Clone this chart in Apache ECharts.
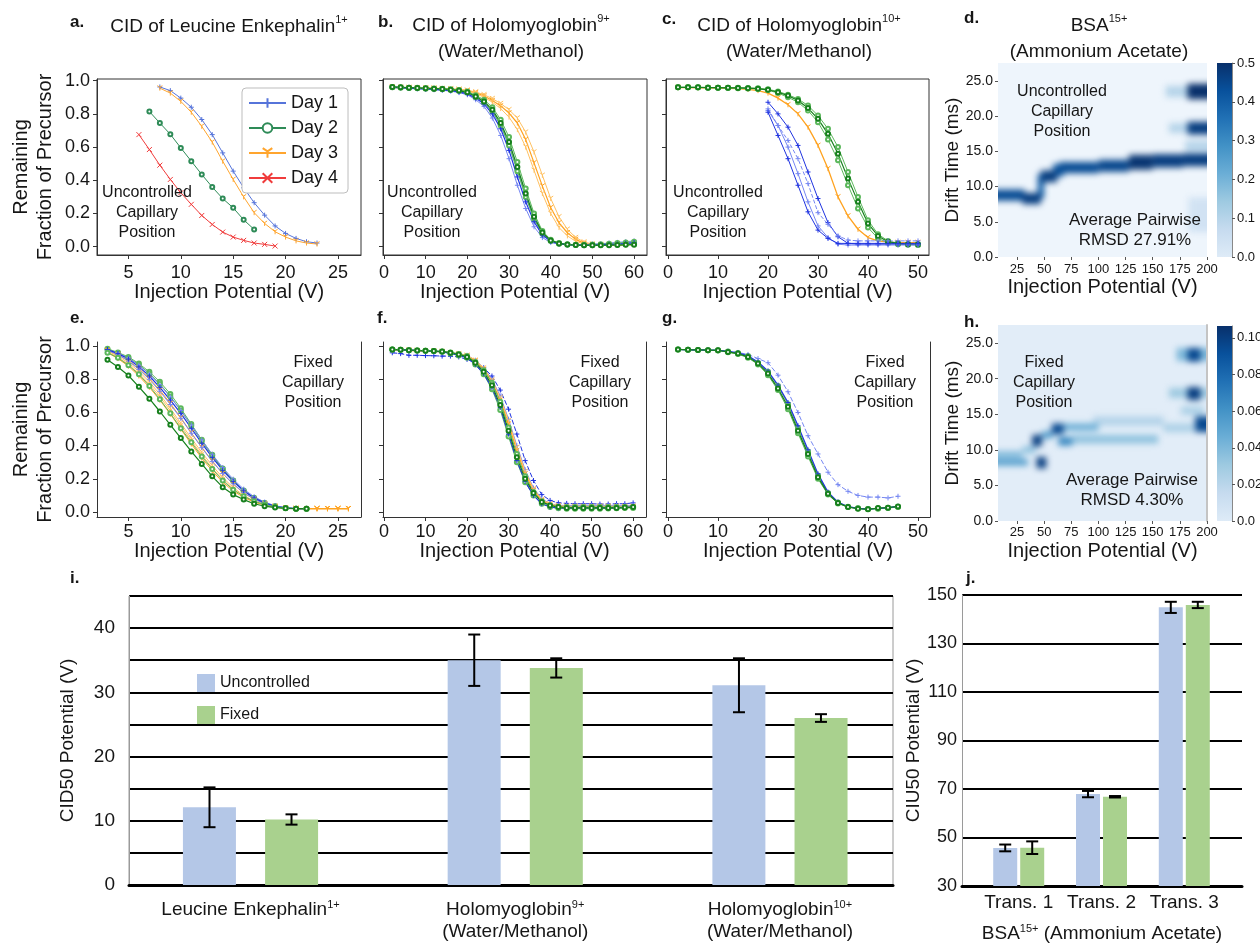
<!DOCTYPE html>
<html>
<head>
<meta charset="utf-8">
<title>CID / CIU reproducibility</title>
<script src="https://cdn.jsdelivr.net/npm/echarts@6/dist/echarts.min.js"></script>
<style>
  html, body { margin: 0; padding: 0; background: #ffffff; }
  #fig { position: absolute; left: 0; top: 0; width: 1260px; height: 944px; z-index: 2; }
  .ciu { position: absolute; overflow: hidden; z-index: 1; }
  .ciu > div { position: absolute; filter: blur(3px); }
</style>
</head>
<body>
<div id="fig"></div>
<script>
// ---------------- data ----------------
// a. CID of Leucine Enkephalin 1+, uncontrolled capillary position (four days)
const aDay1X = [8, 9, 10, 11, 12, 13, 14, 15, 16, 17, 18, 19, 20, 21, 22, 23];
const aDay1Y = [0.962, 0.94, 0.895, 0.84, 0.766, 0.675, 0.565, 0.455, 0.355, 0.265, 0.19, 0.125, 0.08, 0.05, 0.03, 0.022];
const aDay2X = [7, 8, 9, 10, 11, 12, 13, 14, 15, 16, 17];
const aDay2Y = [0.814, 0.745, 0.677, 0.595, 0.515, 0.435, 0.359, 0.29, 0.234, 0.162, 0.104];
const aDay3X = [8, 9, 10, 11, 12, 13, 14, 15, 16, 17, 18, 19, 20, 21, 22, 23];
const aDay3Y = [0.955, 0.925, 0.875, 0.81, 0.725, 0.63, 0.515, 0.405, 0.3, 0.205, 0.14, 0.09, 0.058, 0.035, 0.022, 0.016];
const aDay4X = [6, 7, 8, 9, 10, 11, 12, 13, 14, 15, 16, 17, 18, 19];
const aDay4Y = [0.675, 0.585, 0.491, 0.405, 0.325, 0.255, 0.188, 0.134, 0.088, 0.058, 0.038, 0.022, 0.014, 0.004];

// b. Holomyoglobin 9+, uncontrolled
const bX = [2, 4, 6, 8, 10, 12, 14, 16, 18, 20, 22, 24, 26, 28, 30, 32, 34, 36, 38, 40, 42, 44, 46, 48, 50, 52, 54, 56, 58, 60];
const bBlue1 = [0.96, 0.958, 0.955, 0.953, 0.95, 0.948, 0.945, 0.94, 0.932, 0.92, 0.895, 0.86, 0.8, 0.71, 0.58, 0.42, 0.27, 0.15, 0.07, 0.032, 0.018, 0.012, 0.01, 0.01, 0.01, 0.012, 0.014, 0.016, 0.02, 0.025];
const bBlue2 = [0.958, 0.956, 0.953, 0.95, 0.948, 0.945, 0.942, 0.937, 0.928, 0.915, 0.885, 0.845, 0.775, 0.67, 0.53, 0.37, 0.23, 0.12, 0.055, 0.025, 0.015, 0.012, 0.012, 0.013, 0.015, 0.018, 0.022, 0.026, 0.03, 0.035];
const bBlue3 = [0.962, 0.96, 0.957, 0.955, 0.952, 0.95, 0.947, 0.943, 0.936, 0.925, 0.9, 0.87, 0.815, 0.73, 0.61, 0.46, 0.3, 0.17, 0.08, 0.035, 0.02, 0.013, 0.01, 0.01, 0.01, 0.01, 0.012, 0.014, 0.017, 0.02];
const bGreen1 = [0.962, 0.96, 0.958, 0.956, 0.954, 0.952, 0.95, 0.946, 0.94, 0.93, 0.905, 0.875, 0.825, 0.745, 0.63, 0.48, 0.32, 0.18, 0.085, 0.038, 0.02, 0.013, 0.01, 0.008, 0.008, 0.008, 0.009, 0.01, 0.011, 0.012];
const bGreen2 = [0.962, 0.96, 0.958, 0.957, 0.955, 0.953, 0.951, 0.948, 0.943, 0.935, 0.912, 0.885, 0.84, 0.765, 0.66, 0.51, 0.35, 0.2, 0.095, 0.042, 0.022, 0.014, 0.012, 0.012, 0.013, 0.015, 0.018, 0.022, 0.026, 0.03];
const bGreen3 = [0.96, 0.958, 0.956, 0.954, 0.952, 0.95, 0.948, 0.944, 0.938, 0.928, 0.9, 0.868, 0.815, 0.73, 0.61, 0.455, 0.3, 0.165, 0.078, 0.035, 0.018, 0.012, 0.01, 0.009, 0.009, 0.01, 0.011, 0.012, 0.014, 0.016];
const bOrange1 = [0.96, 0.958, 0.957, 0.955, 0.954, 0.953, 0.951, 0.949, 0.946, 0.94, 0.928, 0.908, 0.88, 0.848, 0.805, 0.745, 0.645, 0.505, 0.365, 0.235, 0.144, 0.084, 0.044, 0.02, 0.012, 0.01, 0.01, 0.01, 0.012, 0.014];
const bOrange2 = [0.962, 0.96, 0.958, 0.957, 0.956, 0.955, 0.953, 0.951, 0.948, 0.942, 0.932, 0.915, 0.892, 0.862, 0.825, 0.775, 0.69, 0.57, 0.43, 0.29, 0.18, 0.105, 0.055, 0.028, 0.016, 0.012, 0.011, 0.011, 0.012, 0.013];
const bOrange3 = [0.958, 0.956, 0.955, 0.954, 0.952, 0.951, 0.949, 0.946, 0.943, 0.938, 0.922, 0.9, 0.87, 0.832, 0.78, 0.705, 0.6, 0.46, 0.32, 0.2, 0.115, 0.065, 0.032, 0.016, 0.01, 0.009, 0.009, 0.01, 0.011, 0.012];

// c. Holomyoglobin 10+, uncontrolled
const cX = [2, 4, 6, 8, 10, 12, 14, 16, 18, 20, 22, 24, 26, 28, 30, 32, 34, 36, 38, 40, 42, 44, 46, 48, 50];
const cBlueX = [20, 22, 24, 26, 28, 30, 32, 34, 36, 38, 40, 42, 44, 46, 48, 50];
const cGreen1 = [0.96, 0.96, 0.96, 0.958, 0.958, 0.957, 0.956, 0.955, 0.952, 0.945, 0.93, 0.91, 0.88, 0.835, 0.77, 0.68, 0.56, 0.41, 0.27, 0.14, 0.065, 0.03, 0.02, 0.015, 0.015];
const cGreen2 = [0.96, 0.96, 0.96, 0.959, 0.958, 0.958, 0.957, 0.956, 0.954, 0.948, 0.935, 0.915, 0.89, 0.85, 0.79, 0.71, 0.6, 0.45, 0.3, 0.16, 0.075, 0.035, 0.02, 0.015, 0.012];
const cGreen3 = [0.96, 0.96, 0.959, 0.958, 0.957, 0.956, 0.955, 0.953, 0.95, 0.943, 0.925, 0.9, 0.87, 0.82, 0.75, 0.645, 0.52, 0.37, 0.23, 0.115, 0.05, 0.025, 0.015, 0.012, 0.01];
const cOrange = [0.958, 0.958, 0.957, 0.956, 0.955, 0.954, 0.952, 0.948, 0.94, 0.925, 0.895, 0.855, 0.8, 0.72, 0.61, 0.47, 0.3, 0.185, 0.105, 0.055, 0.035, 0.028, 0.025, 0.025, 0.025];
const cBlue1 = [0.87, 0.8, 0.72, 0.61, 0.45, 0.29, 0.145, 0.06, 0.02, 0.015, 0.015, 0.015, 0.015, 0.015, 0.015, 0.015];
const cBlue2 = [0.83, 0.73, 0.64, 0.53, 0.38, 0.205, 0.135, 0.065, 0.04, 0.035, 0.035, 0.035, 0.035, 0.035, 0.035, 0.035];
const cBlue3 = [0.82, 0.73, 0.6, 0.44, 0.27, 0.125, 0.055, 0.015, 0.01, 0.01, 0.01, 0.01, 0.01, 0.01, 0.01, 0.01];
const cBlue4 = [0.81, 0.67, 0.53, 0.37, 0.21, 0.1, 0.05, 0.02, 0.02, 0.02, 0.02, 0.02, 0.02, 0.02, 0.02, 0.02];

// e. Leucine Enkephalin 1+, fixed capillary position
const eX = [3, 4, 5, 6, 7, 8, 9, 10, 11, 12, 13, 14, 15, 16, 17, 18, 19, 20, 21, 22, 23, 24, 25, 26];
const eXShort = [3, 4, 5, 6, 7, 8, 9, 10, 11, 12, 13, 14, 15, 16, 17, 18, 19, 20, 21, 22];
const eBlue1 = [0.98, 0.955, 0.922, 0.875, 0.82, 0.752, 0.675, 0.595, 0.505, 0.415, 0.33, 0.252, 0.185, 0.128, 0.085, 0.055, 0.035, 0.025, 0.02, 0.02];
const eBlue2 = [0.98, 0.958, 0.928, 0.885, 0.832, 0.768, 0.693, 0.612, 0.525, 0.435, 0.348, 0.268, 0.198, 0.138, 0.092, 0.06, 0.038, 0.026, 0.021, 0.02];
const eBlue3 = [0.975, 0.948, 0.91, 0.86, 0.8, 0.728, 0.648, 0.565, 0.475, 0.388, 0.305, 0.232, 0.17, 0.117, 0.078, 0.05, 0.032, 0.023, 0.02, 0.02];
const eGreen1 = [0.985, 0.962, 0.935, 0.895, 0.845, 0.785, 0.712, 0.625, 0.53, 0.435, 0.345, 0.262, 0.19, 0.13, 0.085, 0.055, 0.035, 0.025, 0.02, 0.02];
const eGreen2 = [0.98, 0.958, 0.928, 0.888, 0.835, 0.772, 0.697, 0.612, 0.52, 0.428, 0.34, 0.258, 0.188, 0.128, 0.085, 0.055, 0.035, 0.025, 0.02, 0.02];
const eGreen3 = [0.96, 0.93, 0.885, 0.83, 0.76, 0.68, 0.595, 0.505, 0.42, 0.335, 0.26, 0.19, 0.135, 0.095, 0.065, 0.045, 0.032, 0.024, 0.02, 0.02];
const eGreen4 = [0.918, 0.874, 0.823, 0.755, 0.683, 0.606, 0.526, 0.446, 0.365, 0.29, 0.215, 0.15, 0.105, 0.075, 0.05, 0.035, 0.027, 0.022, 0.02, 0.02];
const eOrange1 = [0.97, 0.94, 0.9, 0.848, 0.785, 0.71, 0.625, 0.535, 0.445, 0.36, 0.28, 0.208, 0.148, 0.1, 0.067, 0.045, 0.032, 0.024, 0.02, 0.02, 0.02, 0.02, 0.02, 0.02];
const eOrange2 = [0.965, 0.932, 0.89, 0.835, 0.77, 0.695, 0.61, 0.52, 0.43, 0.345, 0.265, 0.195, 0.138, 0.095, 0.063, 0.043, 0.03, 0.023, 0.02, 0.02, 0.02, 0.02, 0.02, 0.02];
const eOrange3 = [0.975, 0.948, 0.912, 0.865, 0.805, 0.735, 0.655, 0.568, 0.478, 0.39, 0.308, 0.232, 0.168, 0.115, 0.077, 0.05, 0.034, 0.025, 0.02, 0.02, 0.02, 0.02, 0.02, 0.02];
const eOrange4 = [0.962, 0.925, 0.88, 0.82, 0.752, 0.675, 0.59, 0.5, 0.41, 0.325, 0.248, 0.18, 0.127, 0.088, 0.06, 0.041, 0.029, 0.022, 0.02, 0.02, 0.02, 0.02, 0.02, 0.02];

// f. Holomyoglobin 9+, fixed
const fX = [2, 4, 6, 8, 10, 12, 14, 16, 18, 20, 22, 24, 26, 28, 30, 32, 34, 36, 38, 40, 42, 44, 46, 48, 50, 52, 54, 56, 58, 60];
const fGreen1 = [0.98, 0.978, 0.976, 0.974, 0.972, 0.97, 0.968, 0.96, 0.95, 0.935, 0.9, 0.845, 0.765, 0.645, 0.49, 0.33, 0.2, 0.115, 0.06, 0.04, 0.03, 0.025, 0.025, 0.025, 0.025, 0.025, 0.025, 0.025, 0.027, 0.03];
const fGreen2 = [0.98, 0.978, 0.976, 0.974, 0.972, 0.97, 0.966, 0.956, 0.944, 0.93, 0.89, 0.83, 0.74, 0.615, 0.455, 0.3, 0.18, 0.1, 0.05, 0.03, 0.022, 0.02, 0.02, 0.02, 0.02, 0.02, 0.021, 0.022, 0.024, 0.025];
const fGreen3 = [0.98, 0.978, 0.976, 0.974, 0.972, 0.97, 0.968, 0.962, 0.953, 0.94, 0.905, 0.855, 0.78, 0.665, 0.51, 0.35, 0.215, 0.12, 0.065, 0.04, 0.03, 0.03, 0.03, 0.03, 0.03, 0.03, 0.03, 0.03, 0.03, 0.03];
const fOrange1 = [0.978, 0.976, 0.974, 0.972, 0.97, 0.968, 0.966, 0.96, 0.952, 0.94, 0.91, 0.86, 0.785, 0.675, 0.53, 0.37, 0.23, 0.13, 0.07, 0.045, 0.035, 0.03, 0.03, 0.03, 0.03, 0.03, 0.03, 0.03, 0.03, 0.03];
const fOrange2 = [0.978, 0.976, 0.974, 0.972, 0.97, 0.968, 0.966, 0.961, 0.954, 0.945, 0.915, 0.868, 0.795, 0.69, 0.55, 0.39, 0.245, 0.14, 0.075, 0.048, 0.038, 0.035, 0.035, 0.035, 0.035, 0.035, 0.035, 0.035, 0.035, 0.035];
const fBlue1 = [0.96, 0.955, 0.945, 0.945, 0.943, 0.942, 0.94, 0.94, 0.935, 0.92, 0.9, 0.87, 0.82, 0.735, 0.62, 0.47, 0.31, 0.19, 0.105, 0.07, 0.055, 0.052, 0.05, 0.05, 0.05, 0.048, 0.048, 0.05, 0.05, 0.055];
const fBlue2 = [0.98, 0.978, 0.976, 0.974, 0.972, 0.97, 0.966, 0.956, 0.945, 0.93, 0.89, 0.835, 0.75, 0.63, 0.47, 0.31, 0.185, 0.1, 0.05, 0.03, 0.025, 0.025, 0.025, 0.025, 0.025, 0.025, 0.025, 0.027, 0.028, 0.03];
const fBlue3 = [0.978, 0.976, 0.974, 0.972, 0.97, 0.968, 0.966, 0.962, 0.955, 0.945, 0.915, 0.87, 0.8, 0.7, 0.56, 0.4, 0.255, 0.145, 0.08, 0.05, 0.04, 0.04, 0.04, 0.04, 0.04, 0.04, 0.04, 0.04, 0.04, 0.04];

// g. Holomyoglobin 10+, fixed
const gX = [2, 4, 6, 8, 10, 12, 14, 16, 18, 20, 22, 24, 26, 28, 30, 32, 34, 36, 38, 40, 42, 44, 46];
const gGreen1 = [0.98, 0.978, 0.977, 0.976, 0.975, 0.965, 0.955, 0.935, 0.895, 0.835, 0.745, 0.635, 0.49, 0.35, 0.21, 0.11, 0.055, 0.03, 0.02, 0.016, 0.024, 0.026, 0.034];
const gGreen2 = [0.98, 0.978, 0.977, 0.976, 0.974, 0.963, 0.952, 0.93, 0.89, 0.825, 0.735, 0.62, 0.475, 0.335, 0.2, 0.105, 0.052, 0.03, 0.022, 0.018, 0.02, 0.024, 0.03];
const gGreen3 = [0.98, 0.978, 0.977, 0.976, 0.975, 0.967, 0.958, 0.94, 0.9, 0.845, 0.76, 0.65, 0.505, 0.365, 0.22, 0.115, 0.058, 0.032, 0.022, 0.018, 0.022, 0.026, 0.032];
const gBlue1 = [0.98, 0.978, 0.977, 0.976, 0.975, 0.968, 0.96, 0.942, 0.905, 0.85, 0.765, 0.66, 0.52, 0.375, 0.23, 0.12, 0.06, 0.032, 0.022, 0.018, 0.022, 0.026, 0.034];
const gBlue2 = [0.98, 0.978, 0.977, 0.976, 0.975, 0.97, 0.962, 0.95, 0.925, 0.9, 0.825, 0.725, 0.6, 0.46, 0.35, 0.24, 0.165, 0.125, 0.1, 0.09, 0.09, 0.085, 0.095];

// d / h. CIU fingerprints, cells: [V from, V to, drift from (ms), drift to (ms), intensity]
const ciuUncontrolledCells = [
  [7.5, 32, 8.0, 9.6, 0.44], [30, 47, 7.5, 9.1, 0.47], [44, 50, 8.3, 11.8, 0.4],
  [47, 62, 10.6, 12.3, 0.47], [58, 68, 11.4, 13.2, 0.42], [64, 100, 11.9, 13.5, 0.44],
  [100, 128, 12.1, 13.8, 0.45], [128, 150, 12.4, 14.5, 0.49], [150, 178, 12.7, 14.6, 0.47],
  [178, 200, 12.9, 14.7, 0.47], [165, 182, 17.6, 19.0, 0.1], [182, 200, 17.4, 19.2, 0.47],
  [162, 182, 22.7, 24.3, 0.1], [182, 200, 22.4, 24.6, 0.5], [183, 200, 3.5, 8.5, 0.04],
  [180, 200, 15.0, 16.5, 0.1]
];
const ciuFixedCells = [
  [7.5, 35, 7.8, 8.7, 0.055], [7.5, 30, 8.9, 9.8, 0.04], [30, 42, 9.5, 10.5, 0.035],
  [43, 52, 7.4, 9.0, 0.1], [39, 48, 10.5, 12.1, 0.1], [57, 68, 12.2, 13.7, 0.095],
  [48, 58, 11.6, 12.6, 0.055], [68, 100, 12.7, 13.7, 0.045], [63, 76, 10.6, 11.8, 0.065],
  [76, 155, 10.9, 12.1, 0.035], [95, 160, 13.4, 14.7, 0.022], [160, 188, 12.5, 13.7, 0.025],
  [189, 200, 12.5, 14.7, 0.095], [165, 200, 17.3, 18.7, 0.03], [182, 194, 17.0, 18.8, 0.1],
  [172, 200, 22.5, 24.3, 0.04], [182, 194, 22.4, 24.3, 0.095], [176, 197, 14.9, 16.1, 0.025]
];
const ciuVoltageRange = [7.5, 200];
const ciuDriftMax = 27.55;
const ciuVoltageTicks = [25, 50, 75, 100, 125, 150, 175, 200];
const ciuDriftTicks = [0, 5, 10, 15, 20, 25];
const dBarTicks = [0, 0.1, 0.2, 0.3, 0.4, 0.5];
const dBarLabels = ['0.0', '0.1', '0.2', '0.3', '0.4', '0.5'];
const hBarTicks = [0, 0.02, 0.04, 0.06, 0.08, 0.10];
const hBarLabels = ['0.0', '0.02', '0.04', '0.06', '0.08', '0.10'];

// i. CID50 values
const iCategories = ['Leucine Enkephalin{sup|1+}', 'Holomyoglobin{sup|9+}\n(Water/Methanol)', 'Holomyoglobin{sup|10+}\n(Water/Methanol)'];
const iUncontrolled = [12.1, 35.0, 31.1];
const iUncontrolledSd = [3.1, 4.0, 4.2];
const iFixed = [10.2, 33.8, 26.0];
const iFixedSd = [0.8, 1.5, 0.6];
const iYLabels = [0, 10, 20, 30, 40];

// j. CIU50 values
const jCategories = ['Trans. 1', 'Trans. 2', 'Trans. 3'];
const jUncontrolled = [45.7, 67.9, 144.9];
const jUncontrolledSd = [1.4, 1.3, 2.3];
const jFixed = [45.8, 66.8, 145.9];
const jFixedSd = [2.6, 0.3, 1.3];
const jYTicks = [30, 50, 70, 90, 110, 130, 150];

const fracTicks = [0, 0.2, 0.4, 0.6, 0.8, 1.0];

// ---------------- styles ----------------
const FONT = '"Liberation Sans", Arial, Helvetica, sans-serif';
const INK = '#161616';
const BLUES = ['#deebf7', '#c6dbef', '#9ecae1', '#6baed6', '#4292c6', '#2171b5', '#08519c', '#08306b'];
const C = {
  day1: '#5674da', day2: '#2e8b57', day3: '#ffa52e', day4: '#f03c3c',
  blueD: '#1f33e0', blueL: '#7586f2', greenD: '#17801d', greenL: '#5cb85c',
  orange: '#ffa21f', orangeL: '#ffc060', unc: '#b4c7e7', fix: '#a9d18e'
};
const SYM = {
  plus: 'path://M0,5L10,5M5,0L5,10',
  cross: 'path://M0,0L10,10M10,0L0,10',
  tri: 'path://M5,5L5,10M5,5L0.7,2.5M5,5L9.3,2.5',
  circle: 'emptyCircle'
};

const grids = [], xAxes = [], yAxes = [], series = [];

function linePanel(box, xr, xTicks, yr, showY, boxed, lblMargin, nameGap) {
  grids.push({left: box[0], top: box[1], width: box[2], height: box[3], show: boxed,
    borderColor: '#333', borderWidth: 1, backgroundColor: 'transparent', outerBoundsMode: 'none'});
  const gi = grids.length - 1;
  xAxes.push({gridIndex: gi, type: 'value', min: xr[0], max: xr[1],
    axisLine: {show: true, onZero: false, lineStyle: {color: '#333', width: 1}},
    axisTick: {show: true, length: 4, customValues: xTicks, lineStyle: {color: '#333'}},
    axisLabel: {customValues: xTicks, fontSize: 18, color: INK, margin: lblMargin, fontFamily: FONT},
    splitLine: {show: false},
    name: 'Injection Potential (V)', nameLocation: 'middle', nameGap: nameGap,
    nameTextStyle: {fontSize: 20, color: INK, fontFamily: FONT}});
  yAxes.push({gridIndex: gi, type: 'value', min: yr[0], max: yr[1],
    axisLine: {show: true, onZero: false, lineStyle: {color: '#333', width: 1}},
    axisTick: {show: true, length: 4, customValues: fracTicks, lineStyle: {color: '#333'}},
    axisLabel: {show: showY, customValues: fracTicks, formatter: v => v.toFixed(1), fontSize: 18,
      color: INK, margin: 7, fontFamily: FONT},
    splitLine: {show: false},
    name: showY ? 'Remaining\nFraction of Precursor' : '', nameLocation: 'middle', nameGap: 40,
    nameTextStyle: {fontSize: 20, lineHeight: 24, color: INK, fontFamily: FONT}});
  const ref = {xi: xAxes.length - 1, yi: yAxes.length - 1};
  if (!boxed) {
    yAxes.push({gridIndex: gi, type: 'value', position: 'right', min: yr[0], max: yr[1],
      axisLine: {show: true, onZero: false, lineStyle: {color: '#333', width: 1}},
      axisTick: {show: false}, axisLabel: {show: false}, splitLine: {show: false}});
  }
  return ref;
}

function addLine(ref, name, xs, ys, color, sym, width, extra) {
  series.push(Object.assign({
    type: 'line', name: name, xAxisIndex: ref.xi, yAxisIndex: ref.yi,
    data: xs.map((x, k) => [x, ys[k]]),
    symbol: sym, symbolSize: sym === SYM.circle ? 4 : 5, showSymbol: true,
    lineStyle: {color: color, width: width},
    itemStyle: {color: color, borderColor: color, borderWidth: 1},
    silent: true, animation: false
  }, extra || {}));
}

// a
const pa = linePanel([97, 79, 264, 176], [2, 27.2], [5, 10, 15, 20, 25], [-0.05, 1.01], true, true, 9, 22);
addLine(pa, 'Day 1', aDay1X, aDay1Y, C.day1, SYM.plus, 1);
addLine(pa, 'Day 2', aDay2X, aDay2Y, C.day2, SYM.circle, 1);
addLine(pa, 'Day 3', aDay3X, aDay3Y, C.day3, SYM.tri, 1);
addLine(pa, 'Day 4', aDay4X, aDay4Y, C.day4, SYM.cross, 1);

// b
const pb = linePanel([383, 79, 264, 176], [-0.24, 63.1], [0, 10, 20, 30, 40, 50, 60], [-0.05, 1.01], false, true, 9, 22);
addLine(pb, 'b orange 1', bX, bOrange1, C.orange, SYM.tri, 1.2);
addLine(pb, 'b orange 2', bX, bOrange2, C.orangeL, SYM.tri, 1);
addLine(pb, 'b orange 3', bX, bOrange3, C.orangeL, SYM.tri, 1);
addLine(pb, 'b blue 2', bX, bBlue2, C.blueL, SYM.plus, 1);
addLine(pb, 'b blue 3', bX, bBlue3, C.blueL, SYM.plus, 1);
addLine(pb, 'b green 2', bX, bGreen2, C.greenL, SYM.circle, 1);
addLine(pb, 'b green 3', bX, bGreen3, C.greenL, SYM.circle, 1);
addLine(pb, 'b blue 1', bX, bBlue1, C.blueD, SYM.plus, 1.2);
addLine(pb, 'b green 1', bX, bGreen1, C.greenD, SYM.circle, 1.3);

// c
const pc = linePanel([666, 79, 263, 176], [-0.4, 52.2], [0, 10, 20, 30, 40, 50], [-0.05, 1.01], false, true, 9, 22);
addLine(pc, 'c orange', cX, cOrange, C.orange, SYM.tri, 1.3);
addLine(pc, 'c green 2', cX, cGreen2, C.greenL, SYM.circle, 1);
addLine(pc, 'c green 3', cX, cGreen3, C.greenL, SYM.circle, 1);
addLine(pc, 'c green 1', cX, cGreen1, C.greenD, SYM.circle, 1.2);
addLine(pc, 'c blue 1', cBlueX, cBlue1, C.blueD, SYM.plus, 1);
addLine(pc, 'c blue 2', cBlueX, cBlue2, C.blueL, SYM.plus, 1, {lineStyle: {color: C.blueL, width: 1, type: [4, 2]}});
addLine(pc, 'c blue 3', cBlueX, cBlue3, C.blueL, SYM.plus, 1);
addLine(pc, 'c blue 4', cBlueX, cBlue4, C.blueD, SYM.plus, 1);

// e
const pe = linePanel([97, 342, 264, 175], [2, 27.2], [5, 10, 15, 20, 25], [-0.03, 1.025], true, false, 6, 24);
addLine(pe, 'e green 1', eXShort, eGreen1, C.greenL, SYM.circle, 1);
addLine(pe, 'e green 2', eXShort, eGreen2, C.greenL, SYM.circle, 1);
addLine(pe, 'e orange 1', eX, eOrange1, C.orangeL, SYM.tri, 1);
addLine(pe, 'e orange 2', eX, eOrange2, C.orangeL, SYM.tri, 1);
addLine(pe, 'e orange 3', eX, eOrange3, C.orange, SYM.tri, 1);
addLine(pe, 'e orange 4', eX, eOrange4, C.orange, SYM.tri, 1);
addLine(pe, 'e blue 2', eXShort, eBlue2, C.blueL, SYM.plus, 1);
addLine(pe, 'e blue 3', eXShort, eBlue3, C.blueL, SYM.plus, 1);
addLine(pe, 'e blue 1', eXShort, eBlue1, C.blueD, SYM.plus, 1.2);
addLine(pe, 'e green 3', eXShort, eGreen3, C.greenL, SYM.circle, 1);
addLine(pe, 'e green 4', eXShort, eGreen4, C.greenD, SYM.circle, 1.2);

// f
const pf = linePanel([383, 342, 263, 175], [-0.24, 63.1], [0, 10, 20, 30, 40, 50, 60], [-0.03, 1.025], false, false, 6, 24);
addLine(pf, 'f blue 1', fX, fBlue1, C.blueD, SYM.plus, 1, {lineStyle: {color: C.blueD, width: 1, type: [5, 2]}});
addLine(pf, 'f blue 3', fX, fBlue3, C.blueL, SYM.plus, 1);
addLine(pf, 'f orange 1', fX, fOrange1, C.orange, SYM.tri, 1.3);
addLine(pf, 'f orange 2', fX, fOrange2, C.orangeL, SYM.tri, 1);
addLine(pf, 'f green 2', fX, fGreen2, C.greenL, SYM.circle, 1);
addLine(pf, 'f green 3', fX, fGreen3, C.greenL, SYM.circle, 1);
addLine(pf, 'f blue 2', fX, fBlue2, C.blueD, SYM.plus, 1.2);
addLine(pf, 'f green 1', fX, fGreen1, C.greenD, SYM.circle, 1.3);

// g
const pg = linePanel([666, 342, 264, 175], [-0.4, 52.4], [0, 10, 20, 30, 40, 50], [-0.03, 1.025], false, false, 6, 24);
addLine(pg, 'g blue 2', gX, gBlue2, C.blueL, SYM.plus, 1, {lineStyle: {color: C.blueL, width: 1, type: [5, 2]}});
addLine(pg, 'g green 2', gX, gGreen2, C.greenL, SYM.circle, 1);
addLine(pg, 'g green 3', gX, gGreen3, C.greenL, SYM.circle, 1);
addLine(pg, 'g blue 1', gX, gBlue1, C.blueD, SYM.plus, 1.2);
addLine(pg, 'g green 1', gX, gGreen1, C.greenD, SYM.circle, 1.3);

// d / h axes (the fingerprint cells are painted underneath in a softened layer)
function ciuPanel(box, cbBox, cbMax, cbTicks, cbLabels, lblMargin) {
  grids.push({left: box[0], top: box[1], width: box[2], height: box[3], outerBoundsMode: 'none'});
  const gi = grids.length - 1;
  xAxes.push({gridIndex: gi, type: 'value', min: ciuVoltageRange[0], max: ciuVoltageRange[1],
    axisLine: {show: false, onZero: false}, axisTick: {show: true, length: 3, customValues: ciuVoltageTicks, lineStyle: {color: '#555'}},
    axisLabel: {customValues: ciuVoltageTicks, fontSize: 13, color: INK, margin: lblMargin, fontFamily: FONT},
    splitLine: {show: false},
    name: 'Injection Potential (V)', nameLocation: 'middle', nameGap: 20,
    nameTextStyle: {fontSize: 20, color: INK, fontFamily: FONT}});
  yAxes.push({gridIndex: gi, type: 'value', min: 0, max: ciuDriftMax,
    axisLine: {show: false, onZero: false}, axisTick: {show: true, length: 3, customValues: ciuDriftTicks, lineStyle: {color: '#555'}},
    axisLabel: {customValues: ciuDriftTicks, formatter: v => v.toFixed(1), fontSize: 14, color: INK, margin: 5, fontFamily: FONT},
    splitLine: {show: false},
    name: 'Drift Time (ms)', nameLocation: 'middle', nameGap: 31,
    nameTextStyle: {fontSize: 19, color: INK, fontFamily: FONT}});

  grids.push({left: cbBox[0], top: cbBox[1], width: cbBox[2], height: cbBox[3], outerBoundsMode: 'none'});
  const ci = grids.length - 1;
  xAxes.push({gridIndex: ci, type: 'value', min: 0, max: 1, show: false});
  yAxes.push({gridIndex: ci, type: 'value', position: 'right', min: 0, max: cbMax,
    axisLine: {show: true, onZero: false, lineStyle: {color: '#888', width: 1}},
    axisTick: {show: true, length: 3, customValues: cbTicks, lineStyle: {color: '#555'}},
    axisLabel: {customValues: cbTicks, fontSize: 13, color: INK, margin: 5, fontFamily: FONT,
      formatter: v => cbLabels[cbTicks.findIndex(t => Math.abs(t - v) < 1e-9)]},
    splitLine: {show: false}});
  const stops = BLUES.map((c, k) => ({offset: k / (BLUES.length - 1), color: c}));
  series.push({type: 'custom', xAxisIndex: xAxes.length - 1, yAxisIndex: yAxes.length - 1, silent: true,
    data: [[0, 1, 0, cbMax]], encode: {x: [0, 1], y: [2, 3]},
    renderItem: (params, api) => {
      const p0 = api.coord([api.value(0), api.value(3)]);
      const p1 = api.coord([api.value(1), api.value(2)]);
      return {type: 'rect', shape: {x: p0[0], y: p0[1], width: p1[0] - p0[0], height: p1[1] - p0[1]},
        style: {fill: new echarts.graphic.LinearGradient(0, 1, 0, 0, stops)}};
    }});
  return gi;
}
const dGrid = ciuPanel([998, 63, 209, 194], [1217, 63, 15, 194], 0.5, dBarTicks, dBarLabels, 6);
const hGrid = ciuPanel([998, 325, 209, 196], [1217, 326, 15, 195], 0.1065, hBarTicks, hBarLabels, 5);
yAxes.push({gridIndex: hGrid, type: 'value', position: 'right', min: 0, max: ciuDriftMax,
  axisLine: {show: true, onZero: false, lineStyle: {color: '#c4c4c4', width: 2}},
  axisTick: {show: false}, axisLabel: {show: false}, splitLine: {show: false}});

// i. bar chart
const SUP_AXIS = {sup: {fontSize: 11, verticalAlign: 'top', lineHeight: 22, color: INK, fontFamily: FONT}};
grids.push({left: 129, top: 596, width: 764, height: 289, show: true, borderColor: '#9a9a9a', borderWidth: 1, outerBoundsMode: 'none'});
const iGrid = grids.length - 1;
xAxes.push({gridIndex: iGrid, type: 'value', min: -0.459, max: 2.427,
  axisLine: {show: true, onZero: false, lineStyle: {color: '#000', width: 3}}, axisTick: {show: false},
  axisLabel: {customValues: [0, 1, 2], formatter: v => iCategories[v], fontSize: 19, lineHeight: 22,
    color: INK, margin: 14, fontFamily: FONT, rich: SUP_AXIS},
  splitLine: {show: false}});
const iX = xAxes.length - 1;
yAxes.push({gridIndex: iGrid, type: 'value', min: 0, max: 45, interval: 5,
  axisLine: {show: true, onZero: false, lineStyle: {color: '#9a9a9a', width: 1}}, axisTick: {show: false},
  axisLabel: {customValues: iYLabels, fontSize: 19, color: INK, margin: 14, fontFamily: FONT},
  splitLine: {show: true, lineStyle: {color: '#000', width: 2}},
  name: 'CID50 Potential (V)', nameLocation: 'middle', nameGap: 52,
  nameTextStyle: {fontSize: 19, color: INK, fontFamily: FONT}});
const iY = yAxes.length - 1;

// j. bar chart
grids.push({left: 962, top: 595, width: 280, height: 291, outerBoundsMode: 'none'});
const jGrid = grids.length - 1;
xAxes.push({gridIndex: jGrid, type: 'value', min: -0.685, max: 2.697,
  axisLine: {show: true, onZero: false, lineStyle: {color: '#000', width: 3}}, axisTick: {show: false},
  axisLabel: {customValues: [0, 1, 2], formatter: v => jCategories[v], fontSize: 19, color: INK, margin: 7, fontFamily: FONT},
  splitLine: {show: false},
  name: 'BSA{sup|15+} (Ammonium Acetate)', nameLocation: 'middle', nameGap: 37,
  nameTextStyle: {fontSize: 19, color: INK, fontFamily: FONT, lineHeight: 22, rich: SUP_AXIS}});
const jX = xAxes.length - 1;
yAxes.push({gridIndex: jGrid, type: 'value', min: 30, max: 150,
  axisLine: {show: true, onZero: false, lineStyle: {color: '#9a9a9a', width: 1}},
  axisTick: {show: false, customValues: jYTicks},
  axisLabel: {customValues: jYTicks, fontSize: 18, color: INK, margin: 5, fontFamily: FONT},
  splitLine: {show: true, lineStyle: {color: '#000', width: 2}},
  name: 'CIU50 Potential (V)', nameLocation: 'middle', nameGap: 39,
  nameTextStyle: {fontSize: 19, color: INK, fontFamily: FONT}});
const jY = yAxes.length - 1;

function bars(name, xi, yi, vals, color, width, gap) {
  series.push({type: 'bar', name: name, xAxisIndex: xi, yAxisIndex: yi,
    data: vals.map((v, k) => [k, v]), barWidth: width, barGap: gap,
    itemStyle: {color: color}, silent: true, z: 3, animation: false});
}
function errorBars(xi, yi, means, sds, dx) {
  series.push({type: 'custom', xAxisIndex: xi, yAxisIndex: yi, z: 6, silent: true,
    data: means.map((m, k) => [k, m - sds[k], m + sds[k]]), encode: {x: 0, y: [1, 2]},
    renderItem: (params, api) => {
      const lo = api.coord([api.value(0), api.value(1)]);
      const hi = api.coord([api.value(0), api.value(2)]);
      const x = lo[0] + dx, c = 6;
      const st = {stroke: '#000', lineWidth: 2};
      return {type: 'group', children: [
        {type: 'line', shape: {x1: x, y1: lo[1], x2: x, y2: hi[1]}, style: st},
        {type: 'line', shape: {x1: x - c, y1: lo[1], x2: x + c, y2: lo[1]}, style: st},
        {type: 'line', shape: {x1: x - c, y1: hi[1], x2: x + c, y2: hi[1]}, style: st}
      ]};
    }});
}
bars('Uncontrolled', iX, iY, iUncontrolled, C.unc, 53, '55%');
bars('Fixed', iX, iY, iFixed, C.fix, 53, '55%');
errorBars(iX, iY, iUncontrolled, iUncontrolledSd, -41);
errorBars(iX, iY, iFixed, iFixedSd, 41);
bars('Uncontrolled', jX, jY, jUncontrolled, C.unc, 24, '12.5%');
bars('Fixed', jX, jY, jFixed, C.fix, 24, '12.5%');
errorBars(jX, jY, jUncontrolled, jUncontrolledSd, -13.5);
errorBars(jX, jY, jFixed, jFixedSd, 13.5);

// ---------------- text ----------------
const SUP_TXT = {sup: {fontSize: 11, verticalAlign: 'top', fill: INK, fontFamily: FONT}};
function txt(x, y, text, size, more) {
  return {type: 'text', x: x, y: y, silent: true, z: 50,
    style: Object.assign({text: text, fontSize: size, fontFamily: FONT, fill: INK,
      align: 'center', verticalAlign: 'middle', lineHeight: Math.round(size * 1.25)}, more || {})};
}
function letter(x, y, s) {
  return txt(x, y, s, 17, {align: 'left', fontWeight: 'bold'});
}
const graphics = [
  letter(70, 22, 'a.'), letter(378, 22, 'b.'), letter(662, 19, 'c.'), letter(964, 18, 'd.'),
  letter(70, 318, 'e.'), letter(377, 318, 'f.'), letter(662, 318, 'g.'), letter(964, 322, 'h.'),
  letter(70, 578, 'i.'), letter(966, 578, 'j.'),
  txt(229, 27, 'CID of Leucine Enkephalin{sup|1+}', 19, {lineHeight: 26, rich: SUP_TXT}),
  txt(511, 39, 'CID of Holomyoglobin{sup|9+}\n(Water/Methanol)', 19, {lineHeight: 26, rich: SUP_TXT}),
  txt(799, 39, 'CID of Holomyoglobin{sup|10+}\n(Water/Methanol)', 19, {lineHeight: 26, rich: SUP_TXT}),
  txt(1099, 39, 'BSA{sup|15+}\n(Ammonium Acetate)', 19, {lineHeight: 26, rich: SUP_TXT}),
  txt(147, 213, 'Uncontrolled\nCapillary\nPosition', 16, {lineHeight: 20}),
  txt(432, 213, 'Uncontrolled\nCapillary\nPosition', 16, {lineHeight: 20}),
  txt(718, 213, 'Uncontrolled\nCapillary\nPosition', 16, {lineHeight: 20}),
  txt(1062, 112, 'Uncontrolled\nCapillary\nPosition', 16, {lineHeight: 20}),
  txt(1135, 230, 'Average Pairwise\nRMSD 27.91%', 17, {lineHeight: 20}),
  txt(313, 383, 'Fixed\nCapillary\nPosition', 16, {lineHeight: 20}),
  txt(600, 383, 'Fixed\nCapillary\nPosition', 16, {lineHeight: 20}),
  txt(885, 383, 'Fixed\nCapillary\nPosition', 16, {lineHeight: 20}),
  txt(1044, 383, 'Fixed\nCapillary\nPosition', 16, {lineHeight: 20}),
  txt(1132, 490, 'Average Pairwise\nRMSD 4.30%', 17, {lineHeight: 20})
];

const chart = echarts.init(document.getElementById('fig'), null, {renderer: 'canvas'});
chart.setOption({
  backgroundColor: 'transparent',
  animation: false,
  textStyle: {fontFamily: FONT, color: INK},
  grid: grids,
  xAxis: xAxes,
  yAxis: yAxes,
  legend: [
    {data: ['Day 1', 'Day 2', 'Day 3', 'Day 4'], orient: 'vertical', left: 242, top: 88,
      itemWidth: 37, itemHeight: 12, itemGap: 7, selectedMode: false,
      padding: [6, 10, 6, 6], borderColor: '#bdbdbd', borderWidth: 1, borderRadius: 4, backgroundColor: '#fff',
      textStyle: {fontSize: 18, color: INK, fontFamily: FONT, lineHeight: 18}},
    {data: ['Uncontrolled', 'Fixed'], orient: 'vertical', left: 192, top: 669, icon: 'rect',
      itemWidth: 18, itemHeight: 18, itemGap: 14, selectedMode: false,
      textStyle: {fontSize: 16, color: INK, fontFamily: FONT}}
  ],
  graphic: graphics,
  series: series
});

// softened CIU fingerprint layers beneath the axes
function ciuLayer(cells, vmax, box, bg) {
  const pad = 14;
  const wrap = document.createElement('div');
  wrap.className = 'ciu';
  Object.assign(wrap.style, {left: box[0] + 'px', top: box[1] + 'px', width: box[2] + 'px', height: box[3] + 'px', background: bg});
  const inner = document.createElement('div');
  Object.assign(inner.style, {left: -pad + 'px', top: -pad + 'px', width: (box[2] + 2 * pad) + 'px', height: (box[3] + 2 * pad) + 'px'});
  wrap.appendChild(inner);
  document.body.appendChild(wrap);
  const layer = echarts.init(inner, null, {renderer: 'canvas'});
  const ordered = cells.slice().sort((p, q) => p[4] - q[4]);
  layer.setOption({
    animation: false,
    grid: {left: pad, top: pad, width: box[2], height: box[3], outerBoundsMode: 'none'},
    xAxis: {type: 'value', min: ciuVoltageRange[0], max: ciuVoltageRange[1], show: false},
    yAxis: {type: 'value', min: 0, max: ciuDriftMax, show: false},
    visualMap: {show: false, type: 'continuous', min: 0, max: vmax, dimension: 4, seriesIndex: 0, inRange: {color: BLUES}},
    series: [{type: 'custom', clip: false, data: ordered, encode: {x: [0, 1], y: [2, 3]},
      renderItem: (params, api) => {
        const p0 = api.coord([api.value(0), api.value(3)]);
        const p1 = api.coord([api.value(1), api.value(2)]);
        let x0 = p0[0], x1 = p1[0];
        if (api.value(0) <= ciuVoltageRange[0]) x0 -= pad;
        if (api.value(1) >= ciuVoltageRange[1]) x1 += pad;
        return {type: 'rect', shape: {x: x0, y: p0[1], width: x1 - x0, height: p1[1] - p0[1]},
          style: {fill: api.visual('color')}};
      }}]
  });
}
ciuLayer(ciuUncontrolledCells, 0.5, [998, 63, 209, 194], '#eef5fc');
ciuLayer(ciuFixedCells, 0.1065, [998, 325, 209, 196], '#e2edf8');
</script>
</body>
</html>
